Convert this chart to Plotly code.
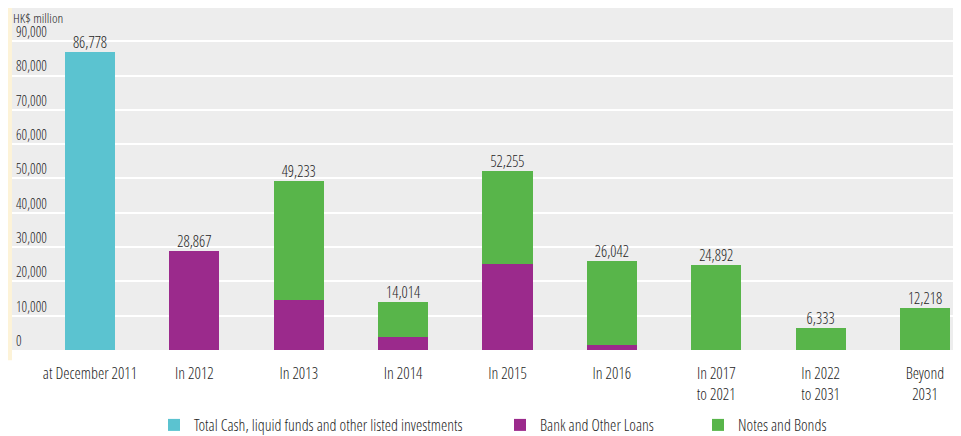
import plotly.graph_objects as go

categories = ["at December 2011", "In 2012", "In 2013", "In 2014", "In 2015",
              "In 2016", "In 2017<br>to 2021", "In 2022<br>to 2031", "Beyond<br>2031"]
cash = [86778, 0, 0, 0, 0, 0, 0, 0, 0]
loans = [0, 28867, 14600, 3700, 25000, 1500, 0, 0, 0]
notes = [0, 0, 34633, 10314, 27255, 24542, 24892, 6333, 12218]
totals = [86778, 28867, 49233, 14014, 52255, 26042, 24892, 6333, 12218]
total_labels = ["86,778", "28,867", "49,233", "14,014", "52,255", "26,042", "24,892", "6,333", "12,218"]
y_ticks = [0, 10000, 20000, 30000, 40000, 50000, 60000, 70000, 80000, 90000]
y_tick_labels = ["0", "10,000", "20,000", "30,000", "40,000", "50,000", "60,000", "70,000", "80,000", "90,000"]

FAM = "Open Sans Condensed Light, Open Sans Condensed, Liberation Sans Narrow, Liberation Sans, sans-serif"
TXT = "#1e1e1e"


def F(size):
    return dict(family=FAM, size=size, color=TXT, weight=300)


xs = list(range(len(categories)))
W, H = 953, 428  # page body has an 8px margin

fig = go.Figure()
fig.add_trace(go.Bar(x=xs, y=cash, name="Total Cash, liquid funds and other listed investments",
                     marker=dict(color="#5bc3d0", line=dict(width=0)), width=0.48, legend="legend"))
fig.add_trace(go.Bar(x=xs, y=loans, name="Bank and Other Loans",
                     marker=dict(color="#9b2a8c", line=dict(width=0)), width=0.48, legend="legend2"))
fig.add_trace(go.Bar(x=xs, y=notes, name="Notes and Bonds",
                     marker=dict(color="#58b54a", line=dict(width=0)), width=0.48, legend="legend3"))
fig.add_trace(go.Scatter(x=xs, y=totals, mode="text", text=total_labels,
                         textposition="top center", showlegend=False, hoverinfo="skip",
                         textfont=F(15.5)))


def leg(xpx):
    return dict(orientation="h", xref="container", yref="container",
                x=xpx / W, xanchor="left", y=(H - 417) / H, yanchor="middle",
                font=F(16), itemwidth=30, bgcolor="rgba(0,0,0,0)")


fig.update_layout(
    barmode="stack",
    width=W, height=H,
    margin=dict(l=4, r=0, t=0, b=86),
    paper_bgcolor="white",
    plot_bgcolor="#ededed",
    font=F(14),
    xaxis=dict(range=[-0.747, 8.345], tickmode="array", tickvals=xs, ticktext=categories,
               showgrid=False, zeroline=False, showline=False, ticks="",
               ticklabelstandoff=12, tickfont=F(16)),
    yaxis=dict(range=[0, 99700], tickmode="array", tickvals=y_ticks, ticktext=y_tick_labels,
               ticklabelposition="inside", ticklabelshift=-9, ticklabelstandoff=1,
               showgrid=True, gridcolor="white", gridwidth=2, zeroline=False,
               showline=False, ticks="", tickfont=F(14)),
    legend=leg(146),
    legend2=leg(492),
    legend3=leg(690),
    annotations=[dict(text="HK$ million", xref="paper", yref="paper", x=0, y=1,
                      xanchor="left", yanchor="top", showarrow=False, xshift=0, yshift=0,
                      borderpad=0, font=F(13.5))],
    shapes=[dict(type="rect", xref="paper", yref="paper", x0=-4 / 949, x1=0, y0=-0.03, y1=1,
                 fillcolor="#fdf3d8", line=dict(width=0), layer="below")],
    showlegend=True,
)

fig.write_html("out.html")
